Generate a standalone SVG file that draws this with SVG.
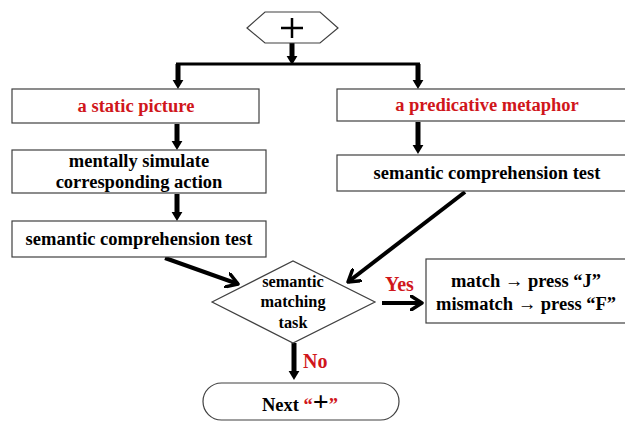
<svg xmlns="http://www.w3.org/2000/svg" width="625" height="422" viewBox="0 0 625 422">
<style>
.box{fill:#fff;stroke:#404040;stroke-width:1.2}
.t{font-family:"Liberation Serif","Times New Roman",serif;font-weight:bold;font-size:18.5px;fill:#000;text-anchor:middle}
.r{fill:#d0161b}
.thick{stroke:#000;stroke-width:5;fill:none}
.diag{stroke:#000;stroke-width:4;fill:none}
</style>
<defs>
<marker id="tri" markerUnits="userSpaceOnUse" viewBox="0 0 10 12" refX="0" refY="6" markerWidth="9" markerHeight="12" orient="auto">
<path d="M0,0 L10,6 L0,12 z" fill="#000"/>
</marker>
<marker id="chev" markerUnits="userSpaceOnUse" viewBox="0 0 14 16" refX="12" refY="8" markerWidth="14" markerHeight="16" orient="auto">
<path d="M1,1 L12,8 L1,15" fill="none" stroke="#000" stroke-width="3.5" stroke-linecap="round" stroke-linejoin="round"/>
</marker>
</defs>
<rect width="625" height="422" fill="#fff"/>
<g id="connectors">
<line x1="292" y1="43" x2="292" y2="56" class="thick" marker-end="url(#tri)"/>
<line x1="176" y1="64" x2="420" y2="64" stroke="#000" stroke-width="3"/>
<line x1="178" y1="64" x2="178" y2="80" class="thick" marker-end="url(#tri)"/>
<line x1="418" y1="64" x2="418" y2="80" class="thick" marker-end="url(#tri)"/>
<line x1="177" y1="124" x2="177" y2="141" class="thick" marker-end="url(#tri)"/>
<line x1="177" y1="194" x2="177" y2="212" class="thick" marker-end="url(#tri)"/>
<line x1="418" y1="122" x2="418" y2="145" class="thick" marker-end="url(#tri)"/>
<line x1="165" y1="258" x2="238" y2="284" class="diag" marker-end="url(#chev)"/>
<line x1="465" y1="192" x2="348" y2="282" class="diag" marker-end="url(#chev)"/>
<line x1="382" y1="303" x2="422" y2="303" class="diag" marker-end="url(#chev)"/>
<line x1="294" y1="343" x2="294" y2="371" class="thick" marker-end="url(#tri)"/>
<text x="385" y="291" class="t r" style="font-size:20px;text-anchor:start">Yes</text>
<text x="303" y="368" class="t r" style="font-size:20px;text-anchor:start">No</text>
</g>
<g id="start">
<polygon points="247,28 265,12 320,12 338,28 320,43 265,43" class="box"/>
<path d="M281,28 H303 M292,18 V38" stroke="#000" stroke-width="2.5"/>
</g>
<g id="static-picture">
<rect x="12" y="89" width="247" height="34" class="box"/>
<text x="136" y="112" class="t r">a static picture</text>
</g>
<g id="simulate">
<rect x="12" y="150" width="254" height="43" class="box"/>
<text x="139" y="167" class="t">mentally simulate</text>
<text x="139" y="188" class="t">corresponding action</text>
</g>
<g id="test-left">
<rect x="12" y="221" width="254" height="36" class="box"/>
<text x="139" y="245" class="t">semantic comprehension test</text>
</g>
<g id="metaphor">
<rect x="337" y="89" width="290" height="32" class="box"/>
<text x="487" y="111" class="t r">a predicative metaphor</text>
</g>
<g id="test-right">
<rect x="337" y="155" width="290" height="36" class="box"/>
<text x="487" y="179" class="t">semantic comprehension test</text>
</g>
<g id="matching">
<polygon points="212,302 293,261 375,302 293,343" class="box"/>
<text x="293" y="287" class="t" style="font-size:16.3px">semantic</text>
<text x="293" y="307" class="t" style="font-size:16.3px">matching</text>
<text x="293" y="328" class="t" style="font-size:16.3px">task</text>
</g>
<g id="response">
<rect x="426" y="259" width="200" height="64" class="box"/>
<text x="526" y="287" class="t">match → press “J”</text>
<text x="526" y="310" class="t">mismatch → press “F”</text>
</g>
<g id="next">
<rect x="203" y="383" width="196" height="37" rx="18.5" ry="18.5" class="box"/>
<text x="300" y="411" class="t">Next <tspan class="r">“</tspan><tspan style="font-size:28px">+</tspan><tspan class="r">”</tspan></text>
</g>
</svg>
